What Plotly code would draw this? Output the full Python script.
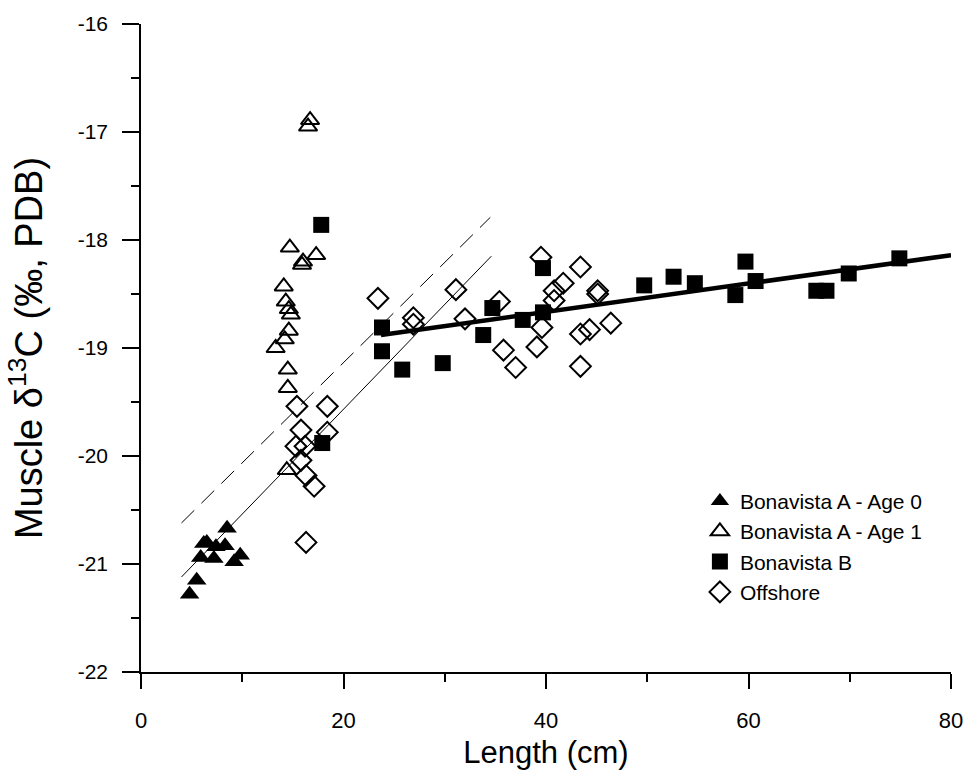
import plotly.graph_objects as go

# Bonavista A - Age 0 (filled triangles)
age0_len = [4.8, 5.5, 5.9, 6.2, 6.5, 7.2, 7.4, 8.3, 8.5, 9.2, 9.8]
age0_d13c = [-21.28, -21.15, -20.94, -20.81, -20.80, -20.95, -20.84, -20.83, -20.67, -20.98, -20.92]

# Bonavista A - Age 1 (open triangles)
age1_len = [16.7, 16.5, 14.7, 16.0, 15.9, 17.3, 14.1, 14.3, 14.6, 14.8, 14.6, 14.2, 13.3, 14.5, 14.5, 14.4]
age1_d13c = [-16.89, -16.95, -18.07, -18.20, -18.23, -18.14, -18.43, -18.57, -18.64, -18.69,
             -18.84, -18.92, -19.00, -19.20, -19.37, -20.13]

# Bonavista B (filled squares)
bb_len = [17.8, 17.9, 23.8, 23.8, 25.8, 29.8, 33.8, 34.7, 37.7, 39.7, 39.7, 49.7, 52.6, 54.7,
          58.7, 59.7, 60.7, 66.7, 67.7, 69.9, 74.9]
bb_d13c = [-17.86, -19.88, -18.81, -19.03, -19.20, -19.14, -18.88, -18.63, -18.74, -18.26, -18.67,
           -18.42, -18.34, -18.40, -18.51, -18.20, -18.38, -18.47, -18.47, -18.31, -18.17]

# Offshore (open diamonds)
off_len = [15.4, 18.4, 15.8, 18.4, 15.3, 16.2, 15.8, 16.3, 17.1, 16.3,
           23.4, 26.9, 26.9, 31.1, 32.0, 35.4, 35.8, 37.0, 39.1, 39.5, 39.6,
           40.8, 40.8, 41.7, 43.4, 43.4, 43.4, 44.3, 45.1, 45.1, 46.4]
off_d13c = [-19.54, -19.54, -19.76, -19.78, -19.91, -19.91, -20.04, -20.18, -20.28, -20.80,
            -18.54, -18.72, -18.78, -18.46, -18.73, -18.57, -19.02, -19.18, -18.99, -18.16, -18.81,
            -18.47, -18.56, -18.40, -18.25, -18.87, -19.17, -18.83, -18.47, -18.50, -18.77]

# Fitted regression lines (endpoints)
fit_solid_x = [4.0, 34.6]
fit_solid_y = [-21.12, -18.15]
fit_dash_x = [4.0, 34.5]
fit_dash_y = [-20.62, -17.79]
fit_thick_x = [23.7, 80.0]
fit_thick_y = [-18.88, -18.14]

# Tick labels
x_tickvals = [0, 20, 40, 60, 80]
x_ticktext = ["0", "20", "40", "60", "80"]
y_tickvals = [-22, -21, -20, -19, -18, -17, -16]
y_ticktext = ["-22", "-21", "-20", "-19", "-18", "-17", "-16"]

FONT = "Arial, Liberation Sans, sans-serif"

fig = go.Figure()

fig.add_trace(go.Scatter(x=fit_solid_x, y=fit_solid_y, mode="lines",
                         line=dict(color="black", width=1), showlegend=False, hoverinfo="skip"))
fig.add_trace(go.Scatter(x=fit_dash_x, y=fit_dash_y, mode="lines",
                         line=dict(color="black", width=1, dash="18px,10px"), showlegend=False, hoverinfo="skip"))
fig.add_trace(go.Scatter(x=fit_thick_x, y=fit_thick_y, mode="lines",
                         line=dict(color="black", width=4.5), showlegend=False, hoverinfo="skip"))

fig.add_trace(go.Scatter(x=age0_len, y=age0_d13c, mode="markers", name="Bonavista A - Age 0",
                         marker=dict(symbol="triangle-up", size=17, color="black")))
fig.add_trace(go.Scatter(x=age1_len, y=age1_d13c, mode="markers", name="Bonavista A - Age 1",
                         marker=dict(symbol="triangle-up-open", size=16, color="black",
                                     line=dict(width=2, color="black"))))
fig.add_trace(go.Scatter(x=bb_len, y=bb_d13c, mode="markers", name="Bonavista B",
                         marker=dict(symbol="square", size=16, color="black")))
fig.add_trace(go.Scatter(x=off_len, y=off_d13c, mode="markers", name="Offshore",
                         marker=dict(symbol="diamond-open", size=16, color="black",
                                     line=dict(width=2, color="black"))))

fig.update_layout(
    width=975, height=777,
    margin=dict(l=141, r=22, t=23, b=105),
    paper_bgcolor="white", plot_bgcolor="white",
    font=dict(family=FONT, color="black"),
    legend=dict(x=0.69, y=0.295, xanchor="left", yanchor="top",
                font=dict(size=21, family=FONT), bgcolor="rgba(0,0,0,0)",
                itemwidth=30, tracegroupgap=0),
    xaxis=dict(range=[0, 80], tickvals=x_tickvals, ticktext=x_ticktext, ticks="outside", ticklen=15,
               tickwidth=1.5, tickcolor="black", showline=True, linecolor="black", linewidth=1.5,
               showgrid=False, zeroline=False, tickfont=dict(size=22, family=FONT),
               ticklabelstandoff=13,
               minor=dict(tickvals=[10, 30, 50, 70], ticks="outside", ticklen=8, tickwidth=1.5,
                          tickcolor="black"),
               title=dict(text="Length (cm)", font=dict(size=31, family=FONT), standoff=9)),
    yaxis=dict(range=[-22, -16], tickvals=y_tickvals, ticktext=y_ticktext, ticks="outside",
               ticklen=17, tickwidth=1.5, tickcolor="black", showline=True, linecolor="black",
               linewidth=1.5, showgrid=False, zeroline=False, tickfont=dict(size=21, family=FONT),
               ticklabelstandoff=10,
               minor=dict(tickvals=[-21.5, -20.5, -19.5, -18.5, -17.5, -16.5], ticks="outside",
                          ticklen=8, tickwidth=1.5, tickcolor="black"),
               title=dict(text="Muscle δ<sup>13</sup>C (‰, PDB)", font=dict(size=38, family=FONT),
                          standoff=23)),
)

fig.write_html("out.html")
